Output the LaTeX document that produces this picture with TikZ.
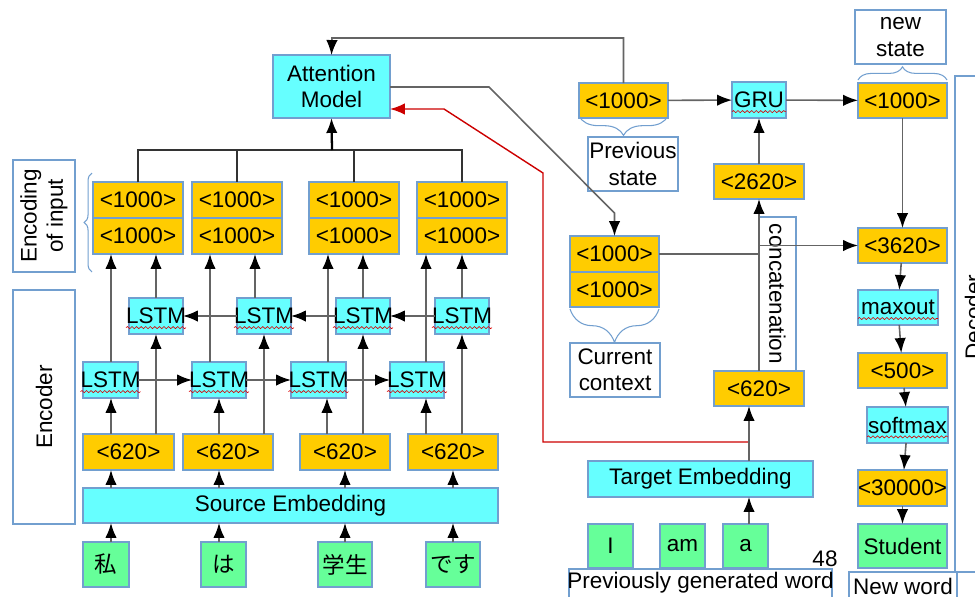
\documentclass[tikz,border=0pt]{standalone}
\usepackage{fontspec}
\setmainfont{Liberation Sans}
\newfontfamily\jpfont{Noto Sans CJK JP}
\usetikzlibrary{arrows.meta,decorations.pathreplacing,decorations.pathmorphing,calc}
\definecolor{ybox}{RGB}{255,204,0}
\definecolor{cbox}{RGB}{102,255,255}
\definecolor{gbox}{RGB}{102,255,153}
\definecolor{bord}{RGB}{114,159,207}
\definecolor{redl}{RGB}{204,0,0}
\definecolor{linec}{RGB}{100,100,100}
\newcommand\spellerr[1]{\tikz[baseline=(spt.base)]{\node[inner sep=0pt, anchor=base] (spt) {#1};
  \draw[red!85!black, line width=0.35pt, decorate, decoration={snake, amplitude=0.6pt, segment length=2.6pt}] ([yshift=-2.2pt]spt.base west) -- ([yshift=-2.2pt]spt.base east);}}
\newcommand\mb[1]{\makebox[0pt]{#1}}
% \nb{style}{name}{x1}{y1}{x2}{y2}{text}
\newcommand\nb[7]{%
  \pgfmathsetmacro\nbx{(#3+#5)/2}\pgfmathsetmacro\nby{(#4+#6)/2}%
  \pgfmathsetmacro\nbw{(#5-#3)*0.02}\pgfmathsetmacro\nbh{(#6-#4)*0.02}%
  \node[#1, minimum width=\nbw cm, minimum height=\nbh cm] (#2) at (\nbx,\nby) {#7};}
\tikzset{
  bx/.style={draw=bord, line width=0.6pt, inner sep=0pt, outer sep=0pt},
  yb/.style={bx, fill=ybox},
  cb/.style={bx, fill=cbox},
  gb/.style={bx, fill=gbox},
  wb/.style={bx, fill=white},
  ln/.style={draw=linec, line width=0.9pt},
  ar/.style={ln, -{Latex[length=8.5pt,width=6.5pt,color=black]}},
  redar/.style={draw=redl, line width=0.8pt, -{Latex[length=8.5pt,width=6.5pt,color=redl]}},
  brc/.style={draw=bord, line width=0.6pt, decorate, decoration={brace, amplitude=#1}},
}
\begin{document}
\begin{tikzpicture}[x=0.02cm, y=-0.02cm, every node/.style={font=\fontsize{12.8}{15}\selectfont}]
\useasboundingbox (0,0) rectangle (975,596);

% ---------- Encoder side labels
\nb{wb}{encin}{13}{160}{75}{272}{}
\node[rotate=90, align=center] (encintxt) at (encin.center) {Encoding\\of input};
\nb{wb}{encb}{13}{290}{75}{524}{}
\node[rotate=90] (enctxt) at (encb.center) {Encoder};
\draw[brc=4.5pt] (92,272) -- (92,173);

% ---------- Encoding of input
\nb{yb}{et1}{93}{182}{183}{218}{\mb{<1000>}}
\nb{yb}{eb1}{93}{218}{183}{254}{\mb{<1000>}}
\nb{yb}{et2}{192}{182}{282}{218}{\mb{<1000>}}
\nb{yb}{eb2}{192}{218}{282}{254}{\mb{<1000>}}
\nb{yb}{et3}{309}{182}{399}{218}{\mb{<1000>}}
\nb{yb}{eb3}{309}{218}{399}{254}{\mb{<1000>}}
\nb{yb}{et4}{417}{182}{507}{218}{\mb{<1000>}}
\nb{yb}{eb4}{417}{218}{507}{254}{\mb{<1000>}}

% ---------- LSTMs
\nb{cb}{b1}{129}{298}{183}{334}{\mb{\spellerr{LSTM}}}
\nb{cb}{b2}{237}{298}{291}{334}{\mb{\spellerr{LSTM}}}
\nb{cb}{b3}{336}{298}{390}{334}{\mb{\spellerr{LSTM}}}
\nb{cb}{b4}{435}{298}{489}{334}{\mb{\spellerr{LSTM}}}
\nb{cb}{f1}{83}{362}{138}{398}{\mb{\spellerr{LSTM}}}
\nb{cb}{f2}{192}{362}{246}{398}{\mb{\spellerr{LSTM}}}
\nb{cb}{f3}{291}{362}{346}{398}{\mb{\spellerr{LSTM}}}
\nb{cb}{f4}{390}{362}{444}{398}{\mb{\spellerr{LSTM}}}

% ---------- <620> encoder
\nb{yb}{p1}{83}{434}{174}{470}{\mb{<620>}}
\nb{yb}{p2}{183}{434}{273}{470}{\mb{<620>}}
\nb{yb}{p3}{300}{434}{390}{470}{\mb{<620>}}
\nb{yb}{p4}{408}{434}{498}{470}{\mb{<620>}}

\nb{cb}{src}{83}{488}{498}{523}{\mb{Source Embedding}}

\nb{gb}{w1}{83}{542}{129}{587}{\mb{\jpfont 私}}
\nb{gb}{w2}{201}{542}{246}{587}{\mb{\jpfont は}}
\nb{gb}{w3}{318}{542}{372}{587}{\mb{\jpfont 学生}}
\nb{gb}{w4}{426}{542}{480}{587}{\mb{\jpfont です}}

% ---------- Attention
\nb{cb,align=center}{att}{273}{55}{390}{118}{Attention\\Model}

% ---------- Decoder
\nb{yb}{ps}{579}{83}{668}{118}{\mb{<1000>}}
\nb{wb,align=center}{pslbl}{588}{137}{678}{191}{Previous\\state}
\draw[brc=11pt] (668,116) -- (579,116);

\nb{cb}{gru}{732}{82}{786}{118}{\mb{\spellerr{GRU}}}
\nb{yb}{ns}{858}{83}{947}{118}{\mb{<1000>}}
\nb{wb,align=center}{nslbl}{855}{10}{946}{64}{new\\state}
\draw[brc=7.5pt] (858,80) -- (947,80);

\nb{yb}{d2620}{714}{164}{804}{199}{\mb{<2620>}}
\nb{bx}{concat}{759}{217}{796}{371}{}
\node[rotate=-90] (concattxt) at (concat.center) {concatenation};
\nb{yb}{d620}{714}{371}{804}{406}{\mb{<620>}}

\nb{yb}{ct}{570}{236}{659}{272}{\mb{<1000>}}
\nb{yb}{cb2}{570}{272}{659}{307}{\mb{<1000>}}
\draw[brc=19pt] (659,309) -- (570,309);
\nb{wb,align=center}{ctlbl}{570}{343}{660}{397}{Current\\context}

\nb{yb}{d3620}{858}{228}{947}{263}{\mb{<3620>}}
\nb{cb}{maxo}{858}{290}{938}{325}{\mb{\spellerr{maxout}}}
\nb{yb}{d500}{858}{353}{947}{388}{\mb{<500>}}
\nb{cb}{soft}{867}{407}{948}{443}{\mb{\spellerr{softmax}}}
\nb{yb}{d30000}{858}{470}{947}{506}{\mb{<30000>}}
\nb{gb}{stud}{858}{524}{947}{568}{\mb{Student}}

\nb{cb}{temb}{588}{461}{813}{497}{\mb{Target Embedding}}
\nb{gb}{wi}{588}{524}{633}{568}{\mb{I}}
\nb{gb}{wam}{660}{524}{705}{568}{\mb{am}}
\nb{gb}{wa}{723}{524}{768}{568}{\mb{a}}
\nb{wb}{pgw}{569}{569}{832}{600}{}
\node (pgwtxt) at (700.5,583) {Previously generated word};
\node (num) at (825,559) {48};

\nb{bx}{dec}{955}{76}{1000}{572}{}
\node[rotate=90] (dectxt) at (973,317) {Decoder};
\nb{bx}{nw}{849}{572}{957}{620}{}
\node (nwtxt) at (903,586) {New word};

% ---------- coordinates for connectors
\coordinate (xs1) at (111,0); \coordinate (xs2) at (219,0);
\coordinate (xs3) at (345,0); \coordinate (xs4) at (453,0);
\coordinate (xf1) at (111,0); \coordinate (xf2) at (219,0);
\coordinate (xf3) at (327,0); \coordinate (xf4) at (426,0);
\coordinate (xb1) at (156,0); \coordinate (xb2) at (264,0);
\coordinate (xb3) at (363,0); \coordinate (xb4) at (462,0);
\coordinate (xu1) at (111,0); \coordinate (xu2) at (210,0);
\coordinate (xu3) at (328,0); \coordinate (xu4) at (426,0);
\coordinate (xv1) at (156,0); \coordinate (xv2) at (255,0);
\coordinate (xv3) at (363,0); \coordinate (xv4) at (462,0);
\coordinate (bus) at (332,150);
\coordinate (topy) at (332,38);
\coordinate (k1) at (489,87);
\coordinate (k2) at (614.5,213);
\coordinate (r1) at (444,109);
\coordinate (r2) at (543,173);
\coordinate (r3) at (543,442);
\coordinate (xd) at (749,0);

% ---------- encoder connectors
\foreach \i in {1,2,3,4}{
  \draw[ar] (w\i.north -| xs\i) -- (src.south -| xs\i);
  \draw[ar] (src.north -| xs\i) -- (p\i.south -| xs\i);
  \draw[ar] (p\i.north -| xf\i) -- (f\i.south -| xf\i);
  \draw[ar] (p\i.north -| xb\i) -- (b\i.south -| xb\i);
  \draw[ar] (f\i.north -| xu\i) -- (eb\i.south -| xu\i);
  \draw[ar] (b\i.north -| xv\i) -- (eb\i.south -| xv\i);
}
\draw[ar] (f1) -- (f2);
\draw[ar] (f2) -- (f3);
\draw[ar] (f3) -- (f4);
\draw[ar] (b4) -- (b3);
\draw[ar] (b3) -- (b2);
\draw[ar] (b2) -- (b1);

% bus to attention
\draw[ln, draw=black!80] (et1.north) |- (et4.north |- bus) -- (et4.north);
\draw[ln, draw=black!80] (et2.north) -- (et2.north |- bus);
\draw[ln, draw=black!80] (et3.north) -- (et3.north |- bus);
\draw[ar, draw=black, line width=1.3pt] (bus) -- (att.south);

% attention connectors
\draw[ar] (ps.north) |- (topy) -- (att.north);
\draw[ar] (att.east |- k1) -- (k1) -- (k2) -- (ct.north);
\draw[redar] (xd |- r3) -- (r3) -- (r2) -- (r1) -- (att.east |- r1);

% decoder connectors
\draw[ar] (wa.north -| xd) -- (temb.south -| xd);
\draw[ar] (temb.north -| xd) -- (d620.south -| xd);
\draw[ar] (d620) -- (d2620);
\draw[ar] (d2620) -- (gru);
\draw[ar] (ps) -- (gru);
\draw[ar] (gru) -- (ns);
\draw[ar] (ns) -- (d3620);
\draw[ln] (ct.east) -- (ct.east -| d620);
\draw[ar] (d3620.west -| d620) -- (d3620.west);
\draw[ar] (d3620) -- (maxo);
\draw[ar] (maxo) -- (d500);
\draw[ar] (d500) -- (soft);
\draw[ar] (soft) -- (d30000);
\draw[ar] (d30000) -- (stud);
\end{tikzpicture}
\end{document}
